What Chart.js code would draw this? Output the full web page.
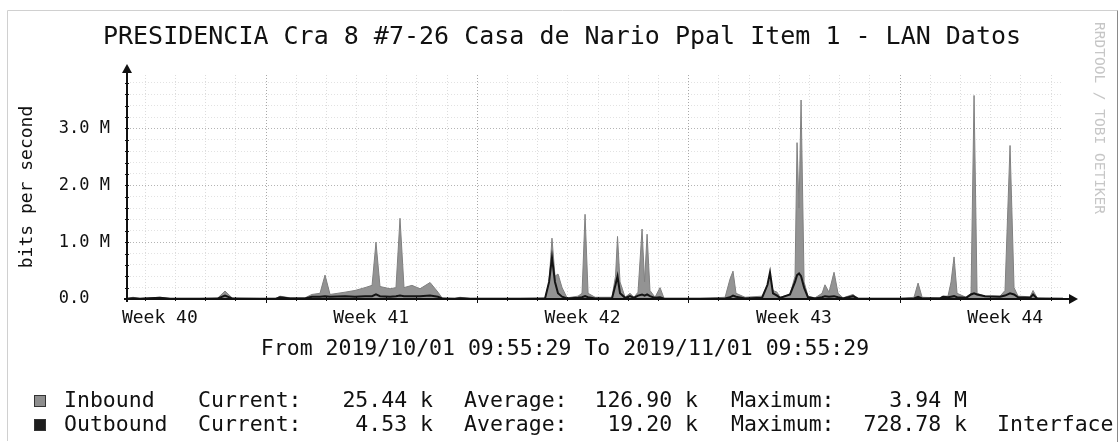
<!DOCTYPE html>
<html><head><meta charset="utf-8">
<script src="https://cdn.jsdelivr.net/npm/chart.js@4.4.1/dist/chart.umd.min.js"></script>
<style>html,body{margin:0;padding:0;background:#fff}#wrap{width:1120px;height:442px;position:relative}</style>
</head><body><div id="wrap"><canvas id="c" width="1120" height="442"></canvas></div>
<script>
// Hours since 2019/10/01 09:55:29
const hours = [0,4.8,10.3,26.2,34.2,58,72.3,77.9,83.5,105.7,118.4,121.6,129.6,141.5,147,153.4,157.4,161.4,173.3,181.2,189.2,194.8,197.9,201.1,209.1,213.8,217,220.2,226.5,232.9,240.9,247.2,250.4,260.7,264.7,272.7,312.4,332.3,335.5,337.8,340.2,342.6,345.8,349.8,358.5,361.7,364.1,366.5,372.1,385.5,388.3,389.9,391.9,395.9,399.8,403,406.2,409.4,411.4,413.4,415.7,419.7,423.7,426.9,455.5,475.4,479.3,481.7,484.1,491.3,504.8,509.1,511.1,513.5,516.7,519.1,527,531,532.6,534.2,535.8,538.2,541.3,546.9,552.5,554.8,558,562,565.2,569.2,577.1,581.1,614.5,625.6,628.8,632,646.3,648.6,652.6,655,657.4,659.8,666.9,670.9,673.3,675.7,682,694,697.9,701.9,705.1,708.3,717.8,720.2,723.4,744];
// Inbound, Mbit/s
const inboundM = [0.01,0.03,0.01,0.03,0.01,0.01,0.02,0.14,0.02,0.01,0.01,0.05,0.02,0.02,0.08,0.1,0.42,0.08,0.12,0.15,0.2,0.24,1.0,0.22,0.18,0.2,1.42,0.2,0.24,0.18,0.29,0.12,0.02,0.01,0.03,0.01,0.01,0.02,0.3,1.07,0.4,0.44,0.2,0.02,0.05,0.1,1.49,0.1,0.03,0.03,0.4,1.1,0.3,0.03,0.1,0.03,0.12,1.23,0.3,1.14,0.15,0.03,0.2,0.01,0.01,0.03,0.35,0.49,0.1,0.03,0.05,0.25,0.35,0.15,0.12,0.03,0.08,0.4,2.75,1.6,3.5,0.3,0.05,0.02,0.1,0.25,0.12,0.47,0.1,0.02,0.08,0.01,0.01,0.03,0.28,0.03,0.02,0.05,0.05,0.3,0.74,0.1,0.03,0.1,3.58,0.1,0.05,0.05,0.15,2.7,0.2,0.05,0.04,0.15,0.02,0.01];
// Outbound, Mbit/s
const outboundM = [0.005,0.015,0.005,0.02,0.005,0.005,0.01,0.06,0.01,0.005,0.005,0.03,0.01,0.01,0.04,0.04,0.05,0.04,0.05,0.04,0.05,0.05,0.08,0.05,0.04,0.05,0.06,0.05,0.05,0.05,0.06,0.04,0.01,0.005,0.015,0.005,0.005,0.01,0.3,0.73,0.3,0.1,0.04,0.01,0.02,0.03,0.05,0.03,0.01,0.01,0.25,0.4,0.1,0.02,0.05,0.02,0.06,0.08,0.06,0.08,0.05,0.02,0.03,0.005,0.005,0.01,0.03,0.06,0.04,0.01,0.02,0.25,0.47,0.1,0.06,0.02,0.08,0.3,0.42,0.45,0.4,0.2,0.03,0.01,0.03,0.05,0.04,0.05,0.03,0.01,0.05,0.005,0.005,0.01,0.04,0.01,0.01,0.04,0.03,0.04,0.05,0.03,0.02,0.08,0.1,0.08,0.05,0.04,0.06,0.1,0.08,0.03,0.02,0.08,0.01,0.005];

const weekLabels = ['Week 40','Week 41','Week 42','Week 43','Week 44'];
const weekLabelHours = [26.1,194.1,362.1,530.1,698.1];
const weekStartHours = [110.1,278.1,446.1,614.1];
const firstMidnightHour = 14.1;
const yMajorTicks = [0,1,2,3];
const yMax = 3.94;
const titleText = 'PRESIDENCIA Cra 8 #7-26 Casa de Nario Ppal Item 1 - LAN Datos';
const rangeText = 'From 2019/10/01 09:55:29 To 2019/11/01 09:55:29';
const legendRows = [
  {name:'Inbound', color:'#8e8e8e', current:'25.44 k', average:'126.90 k', maximum:'3.94 M', extra:''},
  {name:'Outbound', color:'#1e1e1e', current:'4.53 k', average:'19.20 k', maximum:'728.78 k', extra:'Interface'}
];
const MONO = "'DejaVu Sans Mono', monospace";

const rrdPlugin = {
  id: 'rrd',
  beforeDatasetsDraw(chart) {
    const {ctx, chartArea:a, scales:{x}} = chart;
    ctx.save();
    ctx.lineWidth = 1;
    ctx.setLineDash([1,2]);
    for (let h = firstMidnightHour; h < 744; h += 24) {
      const px = Math.round(x.getPixelForValue(h)) + 0.5;
      ctx.strokeStyle = '#dcdcdc';
      ctx.beginPath(); ctx.moveTo(px, a.top); ctx.lineTo(px, a.bottom); ctx.stroke();
    }
    weekStartHours.forEach(h => {
      const px = Math.round(x.getPixelForValue(h)) + 0.5;
      ctx.strokeStyle = '#a8a8a8';
      ctx.beginPath(); ctx.moveTo(px, a.top); ctx.lineTo(px, a.bottom); ctx.stroke();
    });
    ctx.restore();
  },
  afterDraw(chart) {
    const {ctx, scales:{x, y}} = chart;
    ctx.save();
    // frame
    ctx.setLineDash([]);
    ctx.strokeStyle = '#d0d0d0'; ctx.lineWidth = 1;
    ctx.beginPath(); ctx.moveTo(7.5, 441); ctx.lineTo(7.5, 10.5); ctx.lineTo(1117.5, 10.5); ctx.stroke();
    ctx.strokeStyle = '#8a8a8a';
    ctx.beginPath(); ctx.moveTo(1117.5, 10.5); ctx.lineTo(1117.5, 442); ctx.stroke();
    // title
    ctx.font = '25px ' + MONO;
    ctx.fillStyle = '#111'; ctx.textAlign = 'center'; ctx.textBaseline = 'middle';
    ctx.fillText(titleText, 562, 37);
    const y0 = Math.round(y.getPixelForValue(0));
    const x0 = Math.round(x.getPixelForValue(0));
    ctx.fillStyle = '#111'; ctx.strokeStyle = '#111';
    // y axis
    ctx.lineWidth = 2;
    ctx.beginPath(); ctx.moveTo(x0, y0 + 3); ctx.lineTo(x0, 72); ctx.stroke();
    ctx.beginPath(); ctx.moveTo(x0 - 5, 73); ctx.lineTo(x0 + 5, 73); ctx.lineTo(x0, 64); ctx.closePath(); ctx.fill();
    // x axis
    ctx.beginPath(); ctx.moveTo(x0 - 3, y0); ctx.lineTo(1070, y0); ctx.stroke();
    ctx.beginPath(); ctx.moveTo(1069, y0 - 5); ctx.lineTo(1069, y0 + 5); ctx.lineTo(1078, y0); ctx.closePath(); ctx.fill();
    // ticks on axes
    ctx.lineWidth = 1;
    for (let v = 0.2; v < yMax; v += 0.2) {
      const py = Math.round(y.getPixelForValue(v)) + 0.5;
      ctx.beginPath(); ctx.moveTo(x0 - 2, py); ctx.lineTo(x0 + 2, py); ctx.stroke();
    }
    for (let h = firstMidnightHour; h < 744; h += 24) {
      const px = Math.round(x.getPixelForValue(h)) + 0.5;
      ctx.beginPath(); ctx.moveTo(px, y0 - 2); ctx.lineTo(px, y0 + 2); ctx.stroke();
    }
    weekStartHours.forEach(h => {
      const px = Math.round(x.getPixelForValue(h)) + 0.5;
      ctx.beginPath(); ctx.moveTo(px, y0 - 3); ctx.lineTo(px, y0 + 4); ctx.stroke();
    });
    // range line
    ctx.font = '21.5px ' + MONO;
    ctx.textBaseline = 'middle'; ctx.textAlign = 'center'; ctx.fillStyle = '#111';
    ctx.fillText(rangeText, 565, 349);
    // legend
    legendRows.forEach((r, i) => {
      const ly = 401 + i * 24;
      ctx.fillStyle = r.color; ctx.fillRect(34, ly - 6, 12, 12);
      ctx.strokeStyle = '#333'; ctx.lineWidth = 1; ctx.strokeRect(34.5, ly - 5.5, 11, 11);
      ctx.fillStyle = '#111';
      ctx.textAlign = 'left';
      ctx.fillText(r.name, 64, ly);
      ctx.fillText('Current:', 198, ly);
      ctx.fillText('Average:', 464, ly);
      ctx.fillText('Maximum:', 731, ly);
      if (r.extra) ctx.fillText(r.extra, 997, ly);
      ctx.textAlign = 'right';
      ctx.fillText(r.current, 433, ly);
      ctx.fillText(r.average, 698, ly);
      ctx.fillText(r.maximum, 967, ly);
    });
    // vertical credit text
    ctx.translate(1099, 22);
    ctx.rotate(Math.PI / 2);
    ctx.font = '14.5px ' + MONO;
    ctx.fillStyle = '#c6c6c6'; ctx.textAlign = 'left'; ctx.textBaseline = 'middle';
    ctx.fillText('RRDTOOL / TOBI OETIKER', 0, 0);
    ctx.restore();
  }
};

new Chart(document.getElementById('c').getContext('2d'), {
  type: 'line',
  data: {
    datasets: [
      {label:'Outbound', data: hours.map((h,i)=>({x:h, y:outboundM[i]})), borderColor:'#141414', borderWidth:2, pointRadius:0, fill:false, tension:0, order:0},
      {label:'Inbound', data: hours.map((h,i)=>({x:h, y:inboundM[i]})), borderColor:'#808080', backgroundColor:'#939393', borderWidth:1, pointRadius:0, fill:'origin', tension:0, order:1}
    ]
  },
  options: {
    responsive:false, animation:false, devicePixelRatio:1,
    layout:{padding:{left:0, right:57, top:75, bottom:0}},
    plugins:{ legend:{display:false}, tooltip:{enabled:false}, title:{display:false} },
    scales:{
      x:{type:'linear', min:0, max:744,
        afterBuildTicks: s => { s.ticks = weekLabelHours.map(v => ({value:v})); },
        ticks:{callback:(v,i)=>weekLabels[i], autoSkip:false, maxRotation:0, minRotation:0, padding:9, color:'#111', font:{family:MONO, size:18}},
        grid:{display:false, drawTicks:false}, border:{display:false},
        afterFit: s => { s.height = 143; }
      },
      y:{min:0, max:yMax,
        afterBuildTicks: s => { const t=[]; for (let k=0;k<=19;k++) t.push({value: Math.round(k*2)/10}); s.ticks = t; },
        ticks:{autoSkip:false, padding:17, color:'#111', font:{family:MONO, size:17},
          callback: v => yMajorTicks.includes(v) ? (v === 0 ? '0.0  ' : v.toFixed(1) + ' M') : ''},
        grid:{drawTicks:false, color: c => (c.tick && yMajorTicks.includes(c.tick.value)) ? '#b4b4b4' : '#e2e2e2'},
        border:{display:false, dash:[1,2]},
        title:{display:true, text:'bits per second', color:'#111', font:{family:MONO, size:18}, padding:{top:17, bottom:0}},
        afterFit: s => { s.width = 127; }
      }
    }
  },
  plugins:[rrdPlugin]
});
</script></body></html>
